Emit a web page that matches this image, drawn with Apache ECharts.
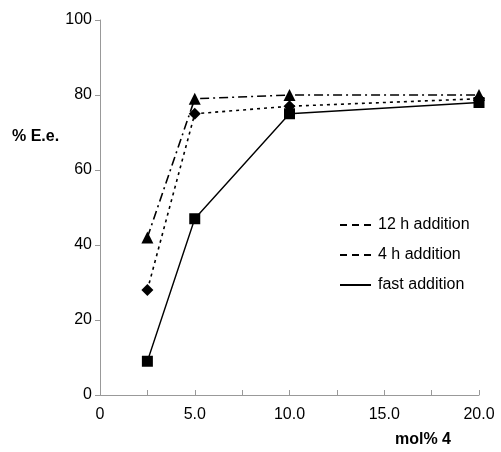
<!DOCTYPE html>
<html>
<head>
<meta charset="utf-8">
<script src="https://cdn.jsdelivr.net/npm/echarts@6/dist/echarts.min.js"></script>
<style>html,body{margin:0;padding:0;background:#fff;}#c{width:501px;height:452px;}</style>
</head>
<body>
<div id="c"></div>
<script>
var xValues = [2.5, 5, 10, 20];
var seriesNames = ['12 h addition', '4 h addition', 'fast addition'];
var h12 = [42, 79, 80, 80];
var h4 = [28, 75, 77, 79];
var fast = [9, 47, 75, 78];
var yTicks = [0, 20, 40, 60, 80, 100];
var xTickLabels = ['0', '5.0', '10.0', '15.0', '20.0'];

function pairs(vals) { return xValues.map(function (x, i) { return [x, vals[i]]; }); }

var FONT = 'Liberation Sans, Arial, sans-serif';
var dashIcon = 'path://M0,0h7v2h-7z M12,0h7v2h-7z M24,0h7v2h-7z';
var solidIcon = 'path://M0,0h31v2h-31z';

var chart = echarts.init(document.getElementById('c'), null, {renderer: 'canvas'});
chart.setOption({
  animation: false,
  backgroundColor: '#fff',
  grid: {left: 100, right: 22, top: 20, bottom: 57, containLabel: false},
  xAxis: {
    type: 'value', min: 0, max: 20, interval: 2.5,
    axisLine: {show: true, lineStyle: {color: '#999', width: 1}},
    axisTick: {show: true, inside: true, length: 5, lineStyle: {color: '#999'}},
    splitLine: {show: false},
    axisLabel: {
      color: '#000', fontSize: 16, fontFamily: FONT, margin: 12,
      formatter: function (v) {
        if (Math.abs(v % 5) > 1e-9) return '';
        return xTickLabels[Math.round(v / 5)];
      }
    }
  },
  yAxis: {
    type: 'value', min: 0, max: 100, interval: 20,
    axisLine: {show: true, lineStyle: {color: '#999', width: 1}},
    axisTick: {show: true, inside: false, length: 5, lineStyle: {color: '#999'}},
    splitLine: {show: false},
    axisLabel: {color: '#000', fontSize: 16, fontFamily: FONT, margin: 8,
      formatter: function (v) { return yTicks.indexOf(v) >= 0 ? String(v) : ''; }}
  },
  legend: {
    left: 335, top: 212, orient: 'vertical', itemWidth: 31, itemHeight: 2, itemGap: 14,
    textStyle: {color: '#000', fontSize: 16, fontFamily: FONT, lineHeight: 16, padding: [0, 0, 0, 2]},
    itemStyle: {borderWidth: 0},
    data: [
      {name: seriesNames[0], icon: dashIcon},
      {name: seriesNames[1], icon: dashIcon},
      {name: seriesNames[2], icon: solidIcon}
    ]
  },
  graphic: [
    {type: 'text', left: 12, top: 129, style: {text: '% E.e.', fill: '#000', font: 'bold 16px ' + FONT}},
    {type: 'text', left: 395, top: 432, style: {text: 'mol% 4', fill: '#000', font: 'bold 16px ' + FONT}}
  ],
  series: [
    {name: seriesNames[0], type: 'line', data: pairs(h12), symbol: 'triangle', symbolSize: 12,
      itemStyle: {color: '#000'}, lineStyle: {color: '#000', width: 1.6, type: [9, 4, 2, 4]}},
    {name: seriesNames[1], type: 'line', data: pairs(h4), symbol: 'diamond', symbolSize: 12,
      itemStyle: {color: '#000'}, lineStyle: {color: '#000', width: 1.6, type: [3, 4]}},
    {name: seriesNames[2], type: 'line', data: pairs(fast), symbol: 'rect', symbolSize: 11,
      itemStyle: {color: '#000'}, lineStyle: {color: '#000', width: 1.4, type: 'solid'}}
  ]
});
</script>
</body>
</html>
